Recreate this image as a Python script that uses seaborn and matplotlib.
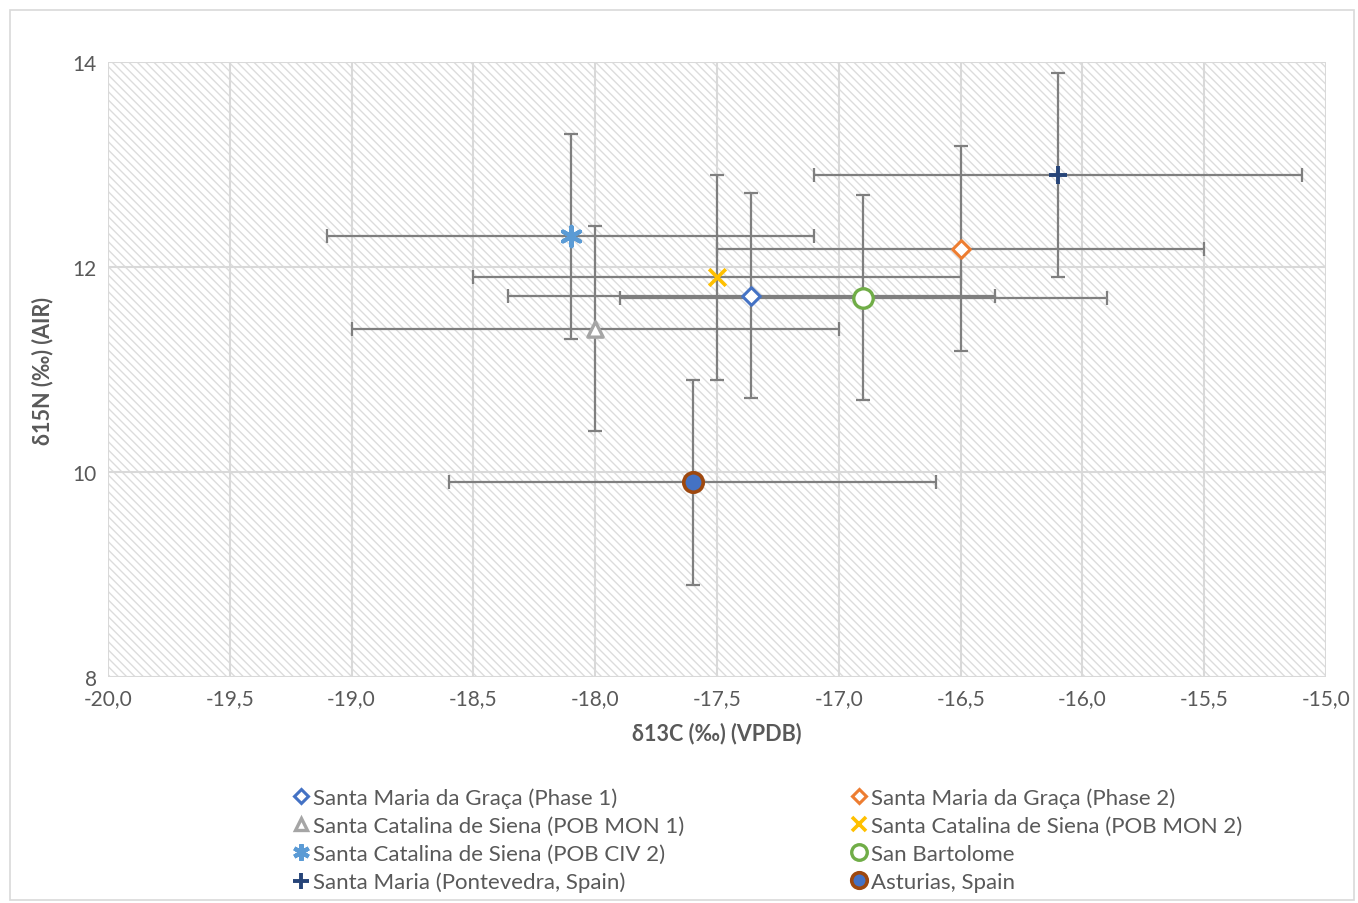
import matplotlib
matplotlib.use("Agg")
import matplotlib.pyplot as plt
from matplotlib.lines import Line2D
from matplotlib.patches import Rectangle
from matplotlib.ticker import FuncFormatter, MultipleLocator
import seaborn as sns
import pandas as pd

# ---- data ----
series = [
    "Santa Maria da Graça (Phase 1)",
    "Santa Maria da Graça (Phase 2)",
    "Santa Catalina de Siena (POB MON 1)",
    "Santa Catalina de Siena (POB MON 2)",
    "Santa Catalina de Siena (POB CIV 2)",
    "San Bartolome",
    "Santa Maria (Pontevedra, Spain)",
    "Asturias, Spain",
]
d13C = [-17.36, -16.50, -18.00, -17.50, -18.10, -16.90, -16.10, -17.60]
d15N = [11.72, 12.18, 11.40, 11.90, 12.30, 11.70, 12.90, 9.90]
d13C_err = [1.0, 1.0, 1.0, 1.0, 1.0, 1.0, 1.0, 1.0]
d15N_err = [1.0, 1.0, 1.0, 1.0, 1.0, 1.0, 1.0, 1.0]

# ---- styles ----
markers = ["D", "D", "^", "x", (6, 2, 0), "o", "+", "o"]
msizes = [9, 9, 11, 12, 14, 14, 13, 14]
faces = ["white", "white", "white", "#FFC000", "#5B9BD5", "white", "#264478", "#4472C4"]
edges = ["#4472C4", "#ED7D31", "#A5A5A5", "#FFC000", "#5B9BD5", "#70AD47", "#264478", "#9E480E"]
ewidths = [2.2, 2.2, 2.4, 2.6, 3.0, 2.4, 2.8, 2.6]

sns.set_theme(style="white")
plt.rcParams["font.family"] = ["Lato", "DejaVu Sans"]
plt.rcParams["hatch.linewidth"] = 1.0

df = pd.DataFrame({"series": series, "x": d13C, "y": d15N,
                   "xerr": d13C_err, "yerr": d15N_err})

fig = plt.figure(figsize=(13.58, 9.04), dpi=100)
ax = fig.add_axes([0.0795, 0.250, 0.897, 0.680])

# hatched plot-area background
bg = Rectangle((0, 0), 1, 1, transform=ax.transAxes, facecolor="white",
               edgecolor="#DCDCDC", hatch="\\\\\\\\", linewidth=0, zorder=0)
ax.add_patch(bg)

ax.set_xlim(-20, -15)
ax.set_ylim(8, 14)
ax.xaxis.set_major_locator(MultipleLocator(0.5))
ax.yaxis.set_major_locator(MultipleLocator(2))
ax.grid(True, color="#D9D9D9", linewidth=1.5, zorder=1)
ax.set_axisbelow(True)
for s in ax.spines.values():
    s.set_visible(False)

# error bars
for i, r in df.iterrows():
    ax.errorbar(r["x"], r["y"], xerr=r["xerr"], yerr=r["yerr"], fmt="none",
                ecolor="#7F7F7F", elinewidth=1.6, capsize=5, capthick=1.6, zorder=3)

# markers
for i, r in df.iterrows():
    m = markers[i]
    kw = dict(marker=m, s=msizes[i] ** 2, linewidth=ewidths[i], zorder=5)
    if m in ("x", "+") or isinstance(m, tuple):
        kw.update(color=edges[i])
    else:
        kw.update(facecolor=faces[i], edgecolor=edges[i])
    sns.scatterplot(x=[r["x"]], y=[r["y"]], ax=ax, legend=False, **kw)

fmt = FuncFormatter(lambda v, p: f"{v:.1f}".replace(".", ","))
ax.xaxis.set_major_formatter(fmt)
ax.yaxis.set_major_formatter(FuncFormatter(lambda v, p: f"{v:.0f}"))
ax.tick_params(axis="both", labelsize=15, labelcolor="#595959", length=0, pad=8)

ax.set_xlabel("δ13C (‰) (VPDB)", fontsize=15.5, fontweight="bold", color="#595959", labelpad=10)
ax.set_ylabel("δ15N (‰) (AIR)", fontsize=15.5, fontweight="bold", color="#595959", labelpad=14)

# legend
handles = []
for i in range(len(series)):
    m = markers[i]
    if m in ("x", "+") or isinstance(m, tuple):
        h = Line2D([], [], linestyle="none", marker=m, color=edges[i],
                   markersize=msizes[i] * 0.85, markeredgewidth=ewidths[i])
    else:
        h = Line2D([], [], linestyle="none", marker=m, markerfacecolor=faces[i],
                   markeredgecolor=edges[i], markersize=msizes[i] * 0.8,
                   markeredgewidth=ewidths[i])
    handles.append(h)
order = [0, 2, 4, 6, 1, 3, 5, 7]
leg = fig.legend([handles[k] for k in order], [series[k] for k in order],
                 ncol=2, loc="upper left", bbox_to_anchor=(0.210, 0.138),
                 frameon=False, fontsize=16, handlelength=0.6, handletextpad=0.25,
                 columnspacing=7.55, labelspacing=0.36, borderaxespad=0)
for t in leg.get_texts():
    t.set_color("#595959")

# chart-area border
fig.add_artist(Rectangle((0.007, 0.003), 0.99, 0.985, transform=fig.transFigure,
                         fill=False, edgecolor="#D9D9D9", linewidth=1.2))

fig.savefig("out.png", dpi=100)
